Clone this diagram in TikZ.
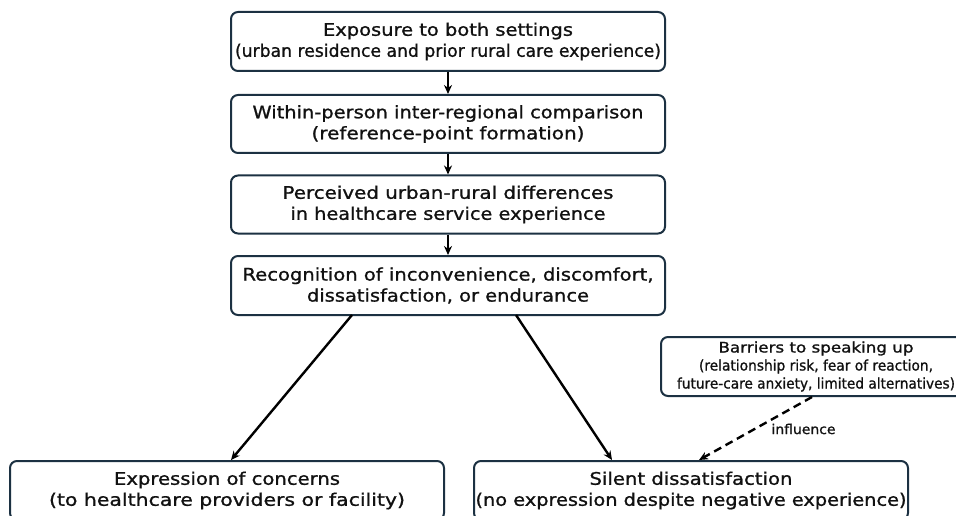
\documentclass[tikz,border=0pt]{standalone}
\usepackage{fontspec}
\setmainfont{DejaVu Sans}[FakeBold=1]
\usetikzlibrary{arrows.meta}
\definecolor{edge}{HTML}{1C3142}
\definecolor{ink}{HTML}{111111}
\newlength\natwd
\newcommand{\fw}[2]{\settowidth{\natwd}{#2}\pgfmathsetmacro\fwratio{#1/\natwd}\scalebox{\fwratio}[1]{#2}}
\tikzset{
  box/.style={draw=edge, line width=2pt, rounded corners=7pt, fill=white, text=ink,
    minimum width=434pt, align=center, inner sep=0pt, font=\fontsize{17.3}{21}\selectfont},
  smallbox/.style={box, font=\fontsize{14.5}{18}\selectfont},
  conn/.style={line width=2.4pt, -{Stealth[length=9pt,width=8pt]}},
  dconn/.style={conn, dash pattern=on 8pt off 5pt},
}
\begin{document}
\begin{tikzpicture}[x=1pt,y=-1pt]
\useasboundingbox (0,0) rectangle (956,516);
\clip (0,0) rectangle (956,516);
\node[box, minimum height=59pt] (b1) at (448,41.5) {\fw{250}{Exposure to both settings}\\\fw{426}{(urban residence and prior rural care experience)}};
\node[box, minimum height=58pt] (b2) at (448,124) {\fw{391}{Within-person inter-regional comparison}\\\fw{273}{(reference-point formation)}};
\node[box, minimum height=58pt] (b3) at (448,204.5) {\fw{331}{Perceived urban-rural differences}\\\fw{315}{in healthcare service experience}};
\node[box, minimum height=59pt] (b4) at (448,285.5) {\fw{411}{Recognition of inconvenience, discomfort,}\\\fw{282}{dissatisfaction, or endurance}};
\node[box, minimum height=59pt] (l) at (227,490.5) {\fw{226}{Expression of concerns}\\\fw{356}{(to healthcare providers or facility)}};
\node[box, minimum height=59pt] (r) at (691,490.5) {\fw{203}{Silent dissatisfaction}\\\fw{431}{(no expression despite negative experience)}};
\node[smallbox, minimum width=310pt, minimum height=59pt] (bar) at (816,366.5) {\fw{195}{Barriers to speaking up}\\\fw{234}{(relationship risk, fear of reaction,}\\\fw{278}{future-care anxiety, limited alternatives)}};
\coordinate (l0) at (352,315);
\coordinate (r0) at (516,315);
\coordinate (l1) at (231,460);
\coordinate (r1) at (612,460);
\coordinate (d0) at (812,397);
\coordinate (d1) at (699,460);
\draw[conn] (b1.south) -- (b2.north);
\draw[conn] (b2.south) -- (b3.north);
\draw[conn] (b3.south) -- (b4.north);
\draw[conn] (l0) -- (l1);
\draw[conn] (r0) -- (r1);
\draw[dconn] (d0) -- (d1);
\node[font=\fontsize{13.5}{16}\selectfont, text=ink, inner sep=0pt] (inf) at (803.5,429) {\fw{64}{influence}};
\end{tikzpicture}
\end{document}
